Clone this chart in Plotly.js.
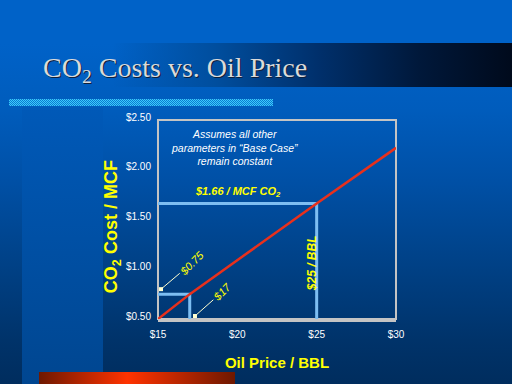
<!DOCTYPE html>
<html><head><meta charset="utf-8">
<script src="https://cdn.plot.ly/plotly-3.0.1.min.js"></script>
<style>
html,body{margin:0;padding:0;width:512px;height:384px;overflow:hidden;}
#slide{position:relative;width:512px;height:384px;background:linear-gradient(to bottom,#0062C8 0px,#0062C8 44px,#005CBC 110px,#0050A6 180px,#004084 270px,#00336A 340px,#002D5E 384px);}
.deco{position:absolute;}
#band{left:0;top:43px;width:512px;height:44px;background:linear-gradient(to right,rgba(0,96,196,0) 0%,rgba(0,96,196,0) 22%,#004E9E 42%,#00306C 62%,#00183A 82%,#000A1C 100%);}
#strip{left:22px;top:107px;width:81px;height:277px;background:linear-gradient(to bottom,#0059B8,#004690);}
#cyan{left:9px;top:99px;width:264px;height:7px;background-color:#1E9BE6;background-image:conic-gradient(#3CCBFA 25%, #0C7AD2 0 50%, #3CCBFA 0 75%, #0C7AD2 0);background-size:2px 2px;}
#redbar{left:39px;top:372px;width:196px;height:12px;background:linear-gradient(to right,#6E1800 0%,#FF3300 45%,#6E1800 100%);}
#chart{position:absolute;left:0;top:0;width:512px;height:384px;}
</style></head>
<body>
<div id="slide">
  <div class="deco" id="band"></div>
  <div class="deco" id="strip"></div>
  <div class="deco" id="cyan"></div>
  <div class="deco" id="redbar"></div>
  <div id="chart"></div>
</div>
<script>
// Data
var oilPrice = [15, 17, 25, 30];
var co2Cost = [0.50, 0.75, 1.66, 2.22];

// Reference points highlighted on the chart
var lowPrice = 17, lowCost = 0.75;
var basePrice = 25, baseCost = 1.66;

// Axis ticks
var xTickVals = [15, 20, 25, 30];
var xTickText = ['$15', '$20', '$25', '$30'];
var yTickVals = [0.5, 1.0, 1.5, 2.0, 2.5];
var yTickText = ['$0.50', '$1.00', '$1.50', '$2.00', '$2.50'];

var xMin = xTickVals[0], xMax = xTickVals[xTickVals.length - 1];
var yMin = yTickVals[0], yMax = yTickVals[yTickVals.length - 1];

var refColor = '#7DBEF2';
var yellow = '#FFFF00';
var font = 'Arial, "Liberation Sans", sans-serif';

var traces = [
  {x: [xMin, basePrice, basePrice], y: [baseCost, baseCost, yMin], mode: 'lines',
   line: {color: refColor, width: 3}, hoverinfo: 'skip', cliponaxis: false},
  {x: [xMin, lowPrice, lowPrice], y: [lowCost, lowCost, yMin], mode: 'lines',
   line: {color: refColor, width: 3}, hoverinfo: 'skip', cliponaxis: false},
  {x: oilPrice, y: co2Cost, mode: 'lines',
   line: {color: '#E8301C', width: 2.5}, cliponaxis: false}
];

var layout = {
  width: 512, height: 384,
  margin: {l: 158, r: 116, t: 120, b: 65, pad: 0},
  paper_bgcolor: 'rgba(0,0,0,0)',
  plot_bgcolor: 'rgba(0,0,0,0)',
  showlegend: false,
  font: {family: font, color: '#FFFFFF', size: 10},
  title: {
    text: 'CO<sub>2</sub> Costs vs. Oil Price',
    font: {family: '"Liberation Serif", "Times New Roman", serif', size: 28, color: '#DADADA',
           shadow: '1px 1px 0px #10203A'},
    xref: 'container', x: 43/512, xanchor: 'left',
    yref: 'container', y: 1 - 67/384, yanchor: 'middle'
  },
  xaxis: {
    range: [xMin, xMax], tickvals: xTickVals, ticktext: xTickText,
    showgrid: false, zeroline: false, ticks: '',
    showline: true, linecolor: '#C4C4C4', linewidth: 3,
    ticklabelstandoff: 4,
    tickfont: {family: font, size: 10, color: '#FFFFFF'},
    title: {text: 'Oil Price / BBL', standoff: 19,
            font: {family: font, size: 15, color: yellow, weight: 'bold'}}
  },
  yaxis: {
    range: [yMin, yMax], tickvals: yTickVals, ticktext: yTickText,
    showgrid: false, zeroline: false, ticks: '',
    showline: false,
    ticklabelstandoff: 6, ticklabelshift: -3,
    tickfont: {family: font, size: 10, color: '#FFFFFF'}
  },
  shapes: [
    {type: 'rect', xref: 'paper', yref: 'paper', x0: 0, x1: 1, y0: 0, y1: 1,
     line: {color: '#C4C4C4', width: 2}, layer: 'below'}
  ],
  annotations: [
    {x: -0.193, y: 0.462, xref: 'paper', yref: 'paper', xanchor: 'center', yanchor: 'middle',
     showarrow: false, textangle: -90,
     text: 'CO<sub>2</sub> Cost / MCF',
     font: {family: font, size: 18, color: yellow, weight: 'bold'}},
    {x: 19.85, y: 2.22, xref: 'x', yref: 'y', showarrow: false,
     text: 'Assumes all other<br>parameters in “Base Case”<br>remain constant',
     font: {family: font, size: 10.5, color: '#FFFFFF', style: 'italic'}},
    {x: 20.04, y: 1.776, xref: 'x', yref: 'y', showarrow: false,
     text: '$1.66 / MCF CO<sub>2</sub>',
     font: {family: font, size: 11, color: yellow, style: 'italic', weight: 'bold'}},
    {x: 24.7, y: 1.06, xref: 'x', yref: 'y', showarrow: false, textangle: -90,
     text: '$25 / BBL',
     font: {family: font, size: 12, color: yellow, style: 'italic', weight: 'bold'}},
    {x: 15.19, y: 0.80, xref: 'x', yref: 'y', ax: 17.14, ay: 1.063, axref: 'x', ayref: 'y',
     showarrow: true, arrowhead: 7, arrowsize: 1, arrowwidth: 1, arrowcolor: '#FFFFD0',
     textangle: -45, text: '$0.75',
     font: {family: font, size: 11, color: yellow, style: 'italic'}},
    {x: 17.33, y: 0.53, xref: 'x', yref: 'y', ax: 19.03, ay: 0.77, axref: 'x', ayref: 'y',
     showarrow: true, arrowhead: 7, arrowsize: 1, arrowwidth: 1, arrowcolor: '#FFFFD0',
     textangle: -45, text: '$17',
     font: {family: font, size: 11, color: yellow, style: 'italic'}}
  ]
};

Plotly.newPlot('chart', traces, layout, {staticPlot: true, displayModeBar: false});
</script>
</body></html>
